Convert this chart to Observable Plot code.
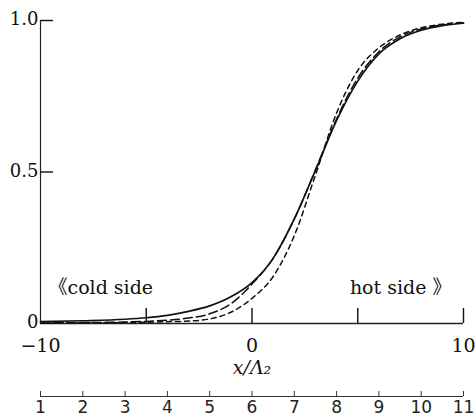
<!DOCTYPE html>
<html><head><meta charset="utf-8">
<script src="https://cdn.jsdelivr.net/npm/d3@7"></script>
<script src="https://cdn.jsdelivr.net/npm/@observablehq/plot@0.6"></script>
<style>body{margin:0;background:#fff} svg{display:block}</style>
</head><body><div id="chart"></div>
<script>
// sample positions x/Λ2
const xs = [-10, -8, -6, -5, -4, -3, -2, -1, 0, 1, 2, 3, 4, 5, 6, 7, 8, 9, 10];
// three profiles
const solid     = [0.006, 0.009, 0.014, 0.019, 0.027, 0.040, 0.058, 0.088, 0.135, 0.215, 0.345, 0.505, 0.670, 0.800, 0.890, 0.940, 0.968, 0.983, 0.991];
const longDash  = [0.002, 0.003, 0.005, 0.007, 0.011, 0.018, 0.032, 0.065, 0.130, 0.215, 0.345, 0.507, 0.675, 0.810, 0.897, 0.946, 0.972, 0.985, 0.992];
const shortDash = [0.001, 0.002, 0.003, 0.004, 0.006, 0.008, 0.015, 0.037, 0.083, 0.155, 0.290, 0.490, 0.695, 0.835, 0.910, 0.952, 0.976, 0.988, 0.994];
// axes
const xTicks = [-5, 0, 5, 10];
const xTickLabels = [-10, 0, 10];
const yTicks = [0.5, 1];
const yTickLabels = [0, 0.5, 1];
const lowerTicks = [1, 2, 3, 4, 5, 6, 7, 8, 9, 10, 11];
const xLabel = "x/Λ₂";
const coldLabel = "《cold side";
const hotLabel = "hot side 》";

const W = 475, H = 417, mL = 40, mR = 12, mT = 20, mB = 94;
const innerH = H - mT - mB, innerW = W - mL - mR;
const lowerShift = 73;
const toX = u => (u - 1) * 2 - 10;   // lower scale 1..11 spans the same width as -10..10
const rows = ys => xs.map((x, i) => ({x, y: ys[i]}));
const serif = "DejaVu Serif, Liberation Serif, serif";

const chart = Plot.plot({
  width: W, height: H,
  marginLeft: mL, marginRight: mR, marginTop: mT, marginBottom: mB,
  x: {domain: [-10, 10], axis: null},
  y: {domain: [0, 1], axis: null},
  style: {fontFamily: serif, background: "white", color: "black"},
  marks: [
    Plot.ruleY([0], {stroke: "#222", strokeWidth: 1.5}),
    Plot.ruleX([-10], {stroke: "#222", strokeWidth: 1.2}),
    Plot.tickX(xTicks, {x: d => d, insetTop: innerH - 15, stroke: "#111", strokeWidth: 1.4}),
    Plot.tickY(yTicks, {y: d => d, insetRight: innerW - 13, stroke: "#111", strokeWidth: 1.4}),
    Plot.text(yTickLabels, {y: d => d, frameAnchor: "left", textAnchor: "end", dx: -2, dy: -1,
      text: d => d === 0 ? "0" : d.toFixed(1), fontSize: 18, fill: "#111"}),
    Plot.text(xTickLabels, {x: d => d, frameAnchor: "bottom", lineAnchor: "top", dy: 15,
      text: d => d < 0 ? "\u2212" + (-d) : String(d), fontSize: 19, fill: "#111"}),
    Plot.text([xLabel], {x: 0, frameAnchor: "bottom", lineAnchor: "top", dy: 37,
      text: d => d, fontSize: 19, fontStyle: "italic", fill: "#111"}),
    Plot.text([coldLabel], {frameAnchor: "bottom-left", textAnchor: "start", lineAnchor: "bottom", dx: 8, dy: -30,
      text: d => d, fontSize: 19, fontFamily: "DejaVu Serif, Noto Sans CJK SC", fill: "#111"}),
    Plot.text([hotLabel], {frameAnchor: "bottom-right", textAnchor: "end", lineAnchor: "bottom", dx: -12, dy: -30,
      text: d => d, fontSize: 19, fontFamily: "DejaVu Serif, Noto Sans CJK SC", fill: "#111"}),
    Plot.line(rows(shortDash), {x: "x", y: "y", curve: "monotone-x", stroke: "#111", strokeWidth: 1.5, strokeDasharray: "5,4"}),
    Plot.line(rows(longDash), {x: "x", y: "y", curve: "monotone-x", stroke: "#111", strokeWidth: 1.5, strokeDasharray: "9,4"}),
    Plot.line(rows(solid), {x: "x", y: "y", curve: "monotone-x", stroke: "#111", strokeWidth: 1.7}),
    // lower auxiliary scale 1..11
    Plot.ruleY([0], {dy: lowerShift, stroke: "#333", strokeWidth: 1}),
    Plot.tickX(lowerTicks, {x: toX, insetTop: innerH - 5, dy: lowerShift, stroke: "#333", strokeWidth: 1}),
    Plot.text(lowerTicks, {x: toX, frameAnchor: "bottom", lineAnchor: "top", dy: lowerShift + 4,
      text: d => String(d), fontSize: 17, fontFamily: "DejaVu Sans, sans-serif", fill: "#222"})
  ]
});
document.getElementById("chart").append(chart);
</script>
</body></html>
